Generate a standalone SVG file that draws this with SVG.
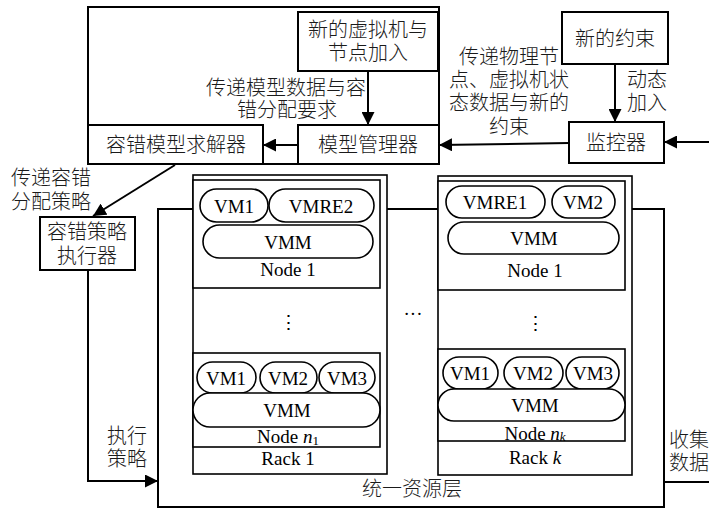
<svg xmlns="http://www.w3.org/2000/svg" width="709" height="508" viewBox="0 0 709 508">
<style>
.box{fill:#fff;stroke:#000;stroke-width:2}
.thin{fill:#fff;stroke:#000;stroke-width:1.6}
.pill{fill:#fff;stroke:#000;stroke-width:1.6}
.t{font-family:"Liberation Serif","Noto Sans CJK SC",serif;font-size:20px;text-anchor:middle;dominant-baseline:central;fill:#1a1a1a;font-weight:300}
.l{font-size:19px;font-weight:normal;fill:#000}
.conn{stroke:#000;stroke-width:2;fill:none}
</style>
<defs>
<marker id="ah" viewBox="0 0 12 12" markerUnits="userSpaceOnUse" markerWidth="13" markerHeight="13" refX="12" refY="6" orient="auto">
<path d="M0,0 L12,6 L0,12 z" fill="#000"/>
</marker>
</defs>
<rect width="709" height="508" fill="#fff"/>

<g id="resource-layer">
<rect class="box" x="158" y="209" width="506" height="298"/>
<text class="t" x="412" y="489">统一资源层</text>
</g>

<g id="rack1">
<rect class="thin" x="193" y="175" width="194" height="299"/>
<g id="rack1-node1">
<rect class="thin" x="193" y="180" width="187" height="108"/>
<rect class="pill" x="200" y="189" width="68" height="33" rx="16.5"/>
<text class="t l" x="234" y="206">VM1</text>
<rect class="pill" x="269" y="189" width="105" height="33" rx="16.5"/>
<text class="t l" x="321" y="206">VMRE2</text>
<rect class="pill" x="203" y="225" width="170" height="33" rx="16.5"/>
<text class="t l" x="288" y="242">VMM</text>
<text class="t l" x="288" y="269">Node 1</text>
</g>
<text class="t l" x="288" y="322">⋮</text>
<g id="rack1-noden1">
<rect class="thin" x="193" y="353" width="187" height="94"/>
<rect class="pill" x="197" y="362" width="59" height="31" rx="15.5"/>
<text class="t l" x="226" y="378">VM1</text>
<rect class="pill" x="260" y="362" width="57" height="31" rx="15.5"/>
<text class="t l" x="288" y="378">VM2</text>
<rect class="pill" x="319" y="362" width="56" height="31" rx="15.5"/>
<text class="t l" x="347" y="378">VM3</text>
<rect class="pill" x="193" y="393" width="187" height="34" rx="17"/>
<text class="t l" x="287" y="410">VMM</text>
<text class="t l" x="288" y="436">Node <tspan font-style="italic">n</tspan><tspan font-size="13" dy="4">1</tspan></text>
</g>
<text class="t l" x="288" y="458">Rack 1</text>
</g>

<g id="rackk">
<rect class="thin" x="438" y="176" width="194" height="299"/>
<g id="rackk-node1">
<rect class="thin" x="438" y="181" width="187" height="109"/>
<rect class="pill" x="446" y="186" width="99" height="32" rx="16"/>
<text class="t l" x="495" y="202">VMRE1</text>
<rect class="pill" x="552" y="186" width="63" height="32" rx="16"/>
<text class="t l" x="583" y="202">VM2</text>
<rect class="pill" x="448" y="222" width="171" height="32" rx="16"/>
<text class="t l" x="534" y="238">VMM</text>
<text class="t l" x="535" y="270">Node 1</text>
</g>
<text class="t l" x="535" y="323">⋮</text>
<g id="rackk-nodenk">
<rect class="thin" x="438" y="349" width="187" height="92"/>
<rect class="pill" x="443" y="357" width="55" height="32" rx="16"/>
<text class="t l" x="470" y="373">VM1</text>
<rect class="pill" x="504" y="357" width="59" height="32" rx="16"/>
<text class="t l" x="533" y="373">VM2</text>
<rect class="pill" x="566" y="357" width="53" height="32" rx="16"/>
<text class="t l" x="593" y="373">VM3</text>
<rect class="pill" x="438" y="389" width="187" height="32" rx="16"/>
<text class="t l" x="535" y="405">VMM</text>
<text class="t l" x="535" y="433">Node <tspan font-style="italic">n</tspan><tspan font-style="italic" font-size="13" dy="3">k</tspan></text>
</g>
<text class="t l" x="535" y="457">Rack <tspan font-style="italic">k</tspan></text>
</g>

<text class="t l" x="413" y="313">···</text>

<g id="manager-area">
<rect class="box" x="88" y="7" width="351" height="157"/>
</g>
<g id="new-vm">
<rect class="box" x="298" y="12" width="140" height="59"/>
<text class="t" x="368" y="30">新的虚拟机与</text>
<text class="t" x="368" y="53">节点加入</text>
</g>
<g id="solver">
<rect class="box" x="88" y="125" width="175" height="39"/>
<text class="t" x="176" y="145">容错模型求解器</text>
</g>
<g id="model-manager">
<rect class="box" x="298" y="125" width="141" height="39"/>
<text class="t" x="368" y="145">模型管理器</text>
</g>
<g id="new-constraint">
<rect class="box" x="562" y="12" width="106" height="52"/>
<text class="t" x="615" y="39">新的约束</text>
</g>
<g id="monitor">
<rect class="box" x="569" y="122" width="95" height="41"/>
<text class="t" x="616" y="143">监控器</text>
</g>
<g id="executor">
<rect class="box" x="40" y="217" width="95" height="53"/>
<text class="t" x="87" y="232">容错策略</text>
<text class="t" x="87" y="256">执行器</text>
</g>

<g id="connectors">
<line class="conn" x1="368" y1="71" x2="368" y2="125" marker-end="url(#ah)"/>
<line class="conn" x1="298" y1="145" x2="263" y2="145" marker-end="url(#ah)"/>
<line class="conn" x1="569" y1="143" x2="439" y2="145" marker-end="url(#ah)"/>
<line class="conn" x1="615" y1="64" x2="615" y2="122" marker-end="url(#ah)"/>
<line class="conn" x1="710" y1="142" x2="664" y2="142" marker-end="url(#ah)"/>
<line class="conn" x1="175" y1="165" x2="93" y2="216" marker-end="url(#ah)"/>
<path class="conn" d="M88,270 V481 H158" marker-end="url(#ah)"/>
<path class="conn" d="M664,482 H710"/>
<text class="t" x="286" y="88">传递模型数据与容</text>
<text class="t" x="287" y="110">错分配要求</text>
<text class="t" x="509" y="57">传递物理节</text>
<text class="t" x="509" y="80">点、虚拟机状</text>
<text class="t" x="509" y="103">态数据与新的</text>
<text class="t" x="509" y="127">约束</text>
<text class="t" x="647" y="80">动态</text>
<text class="t" x="647" y="103">加入</text>
<text class="t" x="51" y="178">传递容错</text>
<text class="t" x="51" y="202">分配策略</text>
<text class="t" x="127" y="436">执行</text>
<text class="t" x="127" y="459">策略</text>
<text class="t" x="669" y="440" style="text-anchor:start">收集</text>
<text class="t" x="669" y="463" style="text-anchor:start">数据</text>
</g>
</svg>
